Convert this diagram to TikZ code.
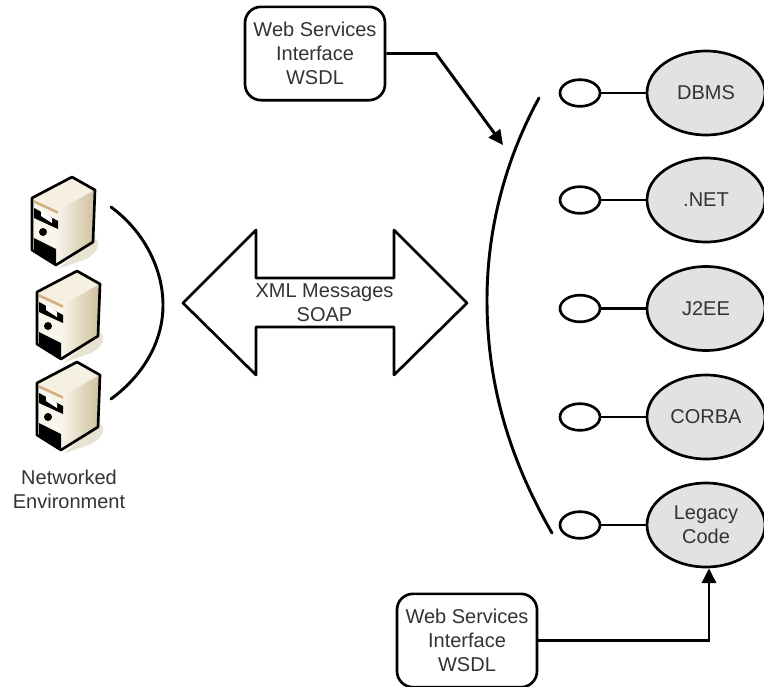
\documentclass[tikz,border=0pt]{standalone}
\usepackage{fontspec}
\setmainfont{Liberation Sans}
\usetikzlibrary{shapes.geometric,arrows.meta}
\definecolor{boxtext}{RGB}{51,51,51}
\definecolor{sysfill}{RGB}{226,226,226}
\definecolor{caseleft}{RGB}{248,245,235}
\definecolor{caseright}{RGB}{208,192,158}
\definecolor{casetop}{RGB}{246,240,226}
\definecolor{casestripe}{RGB}{214,176,130}
\definecolor{caseshadow}{RGB}{232,226,208}
\tikzset{
  every node/.style={text=boxtext,font=\fontsize{15}{18}\selectfont,align=center},
  wsdlbox/.style={draw=black,line width=2pt,rounded corners=12pt,minimum width=105pt,minimum height=70pt,inner sep=0pt,fill=white},
  sysnode/.style={draw=black,line width=2pt,ellipse,fill=sysfill,minimum width=88.5pt,minimum height=63pt,inner sep=0pt},
  portnode/.style={draw=black,line width=2pt,ellipse,fill=white,minimum width=30pt,minimum height=20pt,inner sep=0pt},
  link/.style={line width=2pt},
  thickarc/.style={line width=2.2pt,line cap=round},
  pointer/.style={line width=2.2pt,-{Triangle[length=11pt,width=10.5pt]}},
  server/.pic={
    % shadow
    \fill [caseshadow] (10,72) -- (22,60) .. controls (30,66) and (26,76) .. (14,82) -- (-14,92) -- cycle;
    % case
    \fill [casetop] (0,0) -- (23,13) -- (-14,33) -- (-40,21) -- cycle;
    \shade [left color=caseleft,right color=caseright] (-14,33) -- (23,13) -- (21,65) -- (-16,88) -- cycle;
    \fill [caseleft] (-40,21) -- (-14,33) -- (-16,88) -- (-40,73) -- cycle;
    % front panel
    \fill [casestripe] (-38,23) -- (-14,34) -- (-14,37) -- (-38,26) -- cycle;
    \fill [black] (-38,31) -- (-14,44) -- (-14,52) -- (-38,41) -- cycle;
    \fill [white] (-31,33) -- (-20,41) -- (-20,46) -- (-31,39) -- cycle;
    \fill [black] (-29,55) circle (4);
    \fill [black] (-38,61) -- (-16,72) -- (-16,88) -- (-38,73) -- cycle;
    \draw [line width=2pt,line join=round] (0,0) -- (23,13) -- (21,65) -- (-16,88) -- (-40,73) -- (-40,21) -- cycle;
  }
}
\begin{document}
\begin{tikzpicture}[x=0.75pt,y=0.75pt,yscale=-1,xscale=1]
    \useasboundingbox (0,0) rectangle (764,686);

    %Shape: Servers
    \path (72,177) pic [transform shape] {server};
    \path (77,271) pic [transform shape] {server};
    \path (77,362) pic [transform shape] {server};
    \draw [thickarc] (111,207) .. controls (145,232) and (163,270) .. (163,305) .. controls (163,340) and (145,374) .. (111,399) ;
    \node (netlabel) at (69,489) {Networked\\Environment};

    %Shape: Double Arrow
    \draw [line width=2pt,line join=round,fill=white] (183,303) -- (256,230) -- (256,278) -- (394,278) -- (394,230) -- (467,303) -- (394,375) -- (394,327) -- (256,327) -- (256,375) -- cycle ;
    \node (msglabel) at (324.5,302.5) {XML Messages\\SOAP};

    %Shape: Interface Arc
    \draw [thickarc] (539,98) .. controls (505,160) and (487,230) .. (487,300) .. controls (487,385) and (510,460) .. (552,533) ;

    %Shape: Systems
    \node [sysnode] (dbms) at (706,93) {DBMS};
    \node [sysnode] (dotnet) at (706,200) {.NET};
    \node [sysnode] (jee) at (706,308.5) {J2EE};
    \node [sysnode] (corba) at (706,417) {CORBA};
    \node [sysnode] (legacy) at (706,525) {Legacy\\Code};

    %Shape: Ports
    \foreach \sysname/\ypos in {dbms/93,dotnet/200,jee/308.5,corba/417,legacy/525} {
        \node [portnode] (port-\sysname) at (580,\ypos) {};
        \draw [link] (port-\sysname) -- (port-\sysname -| \sysname.west) ;
    }

    %Shape: Interface Boxes
    \node [wsdlbox] (wsdltop) at (315,53.5) {Web Services\\Interface\\WSDL};
    \node [wsdlbox] (wsdlbottom) at (467,640.5) {Web Services\\Interface\\WSDL};

    \coordinate (topbend) at (436,53.5);
    \coordinate (toptip) at (503,145);
    \coordinate (bottombend) at (709,640.5);
    \draw [pointer] (wsdltop.east) -- (topbend) -- (toptip) ;
    \draw [pointer] (wsdlbottom.east) -- (bottombend) -- (bottombend |- legacy.south) ;
\end{tikzpicture}
\end{document}
